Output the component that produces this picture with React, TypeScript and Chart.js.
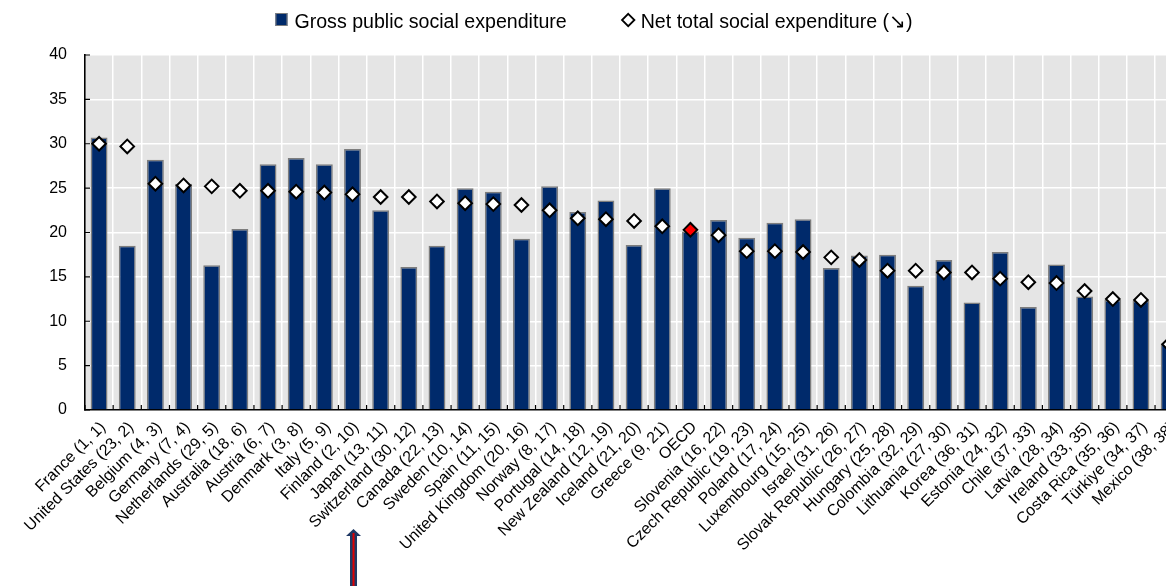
import React, { useEffect, useRef } from "react";
import { Chart, registerables } from "chart.js";

Chart.register(...registerables);

// ---------------- data ----------------
const categories = [
  "France (1, 1)",
  "United States (23, 2)",
  "Belgium (4, 3)",
  "Germany (7, 4)",
  "Netherlands (29, 5)",
  "Australia (18, 6)",
  "Austria (6, 7)",
  "Denmark (3, 8)",
  "Italy (5, 9)",
  "Finland (2, 10)",
  "Japan (13, 11)",
  "Switzerland (30, 12)",
  "Canada (22, 13)",
  "Sweden (10, 14)",
  "Spain (11, 15)",
  "United Kingdom (20, 16)",
  "Norway (8, 17)",
  "Portugal (14, 18)",
  "New Zealand (12, 19)",
  "Iceland (21, 20)",
  "Greece (9, 21)",
  "OECD",
  "Slovenia (16, 22)",
  "Czech Republic (19, 23)",
  "Poland (17, 24)",
  "Luxembourg (15, 25)",
  "Israel (31, 26)",
  "Slovak Republic (26, 27)",
  "Hungary (25, 28)",
  "Colombia (32, 29)",
  "Lithuania (27, 30)",
  "Korea (36, 31)",
  "Estonia (24, 32)",
  "Chile (37, 33)",
  "Latvia (28, 34)",
  "Ireland (33, 35)",
  "Costa Rica (35, 36)",
  "Türkiye (34, 37)",
  "Mexico (38, 38)",
];

const grossPublic = [
  30.7, 18.5, 28.2, 25.5, 16.3, 20.4, 27.7, 28.4, 27.7, 29.4,
  22.5, 16.1, 18.5, 25.0, 24.6, 19.3, 25.2, 22.3, 23.6, 18.6,
  25.0, 20.1, 21.4, 19.4, 21.1, 21.5, 16.0, 17.4, 17.5, 14.0,
  16.9, 12.1, 17.8, 11.6, 16.4, 12.8, 12.4, 12.3, 7.5,
];

const netTotal = [
  30.0, 29.7, 25.5, 25.3, 25.2, 24.7, 24.7, 24.6, 24.5, 24.3,
  24.0, 24.0, 23.5, 23.3, 23.2, 23.1, 22.5, 21.6, 21.5, 21.3,
  20.7, 20.3, 19.7, 17.9, 17.9, 17.8, 17.2, 16.9, 15.7, 15.7,
  15.5, 15.5, 14.8, 14.4, 14.3, 13.4, 12.5, 12.4, 7.4,
];

const yMin = 0;
const yMax = 40;
const yStep = 5;

const seriesLabels = [
  "Gross public social expenditure",
  "Net total social expenditure (\u2198)",
];

const highlightCategory = "OECD";
const arrowCategory = "Finland (2, 10)";

// ---------------- styles ----------------
const NAVY = "#002a6b";
const BAR_EDGE = "#7d7d7d";
const PLOT_BG = "#e5e5e5";
const FONT = "'Liberation Sans', Arial, Helvetica, sans-serif";

const CANVAS_W = 1190;
const CANVAS_H = 578;

const plotBackground = {
  id: "plotBackground",
  beforeDraw(chart: any) {
    const { ctx, chartArea } = chart;
    ctx.save();
    ctx.fillStyle = PLOT_BG;
    ctx.fillRect(chartArea.left, chartArea.top, chartArea.right - chartArea.left, chartArea.bottom - chartArea.top);
    ctx.restore();
  },
};

const innerTicks = {
  id: "innerTicks",
  afterDatasetsDraw(chart: any) {
    const { ctx, chartArea, scales } = chart;
    const x = scales.x;
    const y = scales.y;
    ctx.save();
    ctx.strokeStyle = "#000";
    ctx.lineWidth = 1.2;
    ctx.beginPath();
    const n = categories.length;
    for (let i = 0; i <= n; i++) {
      const px = x.getPixelForValue(i - 0.5);
      ctx.moveTo(px, chartArea.bottom);
      ctx.lineTo(px, chartArea.bottom - 5);
    }
    for (let v = yMin; v <= yMax; v += yStep) {
      const py = y.getPixelForValue(v);
      ctx.moveTo(chartArea.left, py);
      ctx.lineTo(chartArea.left + 5, py);
    }
    ctx.stroke();
    ctx.restore();
  },
};

const customLegend = {
  id: "customLegend",
  afterDraw(chart: any) {
    const { ctx } = chart;
    ctx.save();
    ctx.font = `19.6px ${FONT}`;
    ctx.textBaseline = "alphabetic";
    ctx.textAlign = "left";
    const w1 = 12 + 7 + ctx.measureText(seriesLabels[0]).width;
    const w2 = 15 + 5 + ctx.measureText(seriesLabels[1]).width;
    const gap = 54;
    const total = w1 + gap + w2;
    let x = chart.width / 2 - 9 - total / 2;
    const baseY = 20;
    ctx.fillStyle = NAVY;
    ctx.fillRect(x, 5, 12, 13);
    ctx.strokeStyle = BAR_EDGE;
    ctx.lineWidth = 1;
    ctx.strokeRect(x + 0.5, 5.5, 11, 12);
    ctx.fillStyle = "#000";
    ctx.fillText(seriesLabels[0], x + 19, baseY);
    x += w1 + gap;
    const cx = x + 7.5;
    const cy = 12;
    const r = 6.2;
    ctx.beginPath();
    ctx.moveTo(cx, cy - r);
    ctx.lineTo(cx + r, cy);
    ctx.lineTo(cx, cy + r);
    ctx.lineTo(cx - r, cy);
    ctx.closePath();
    ctx.fillStyle = "#fff";
    ctx.fill();
    ctx.strokeStyle = "#000";
    ctx.lineWidth = 1.8;
    ctx.stroke();
    ctx.fillStyle = "#000";
    ctx.fillText(seriesLabels[1], x + 20, baseY);
    ctx.restore();
  },
};

const arrowMarker = {
  id: "arrowMarker",
  afterDraw(chart: any) {
    const { ctx, scales } = chart;
    const idx = categories.indexOf(arrowCategory);
    if (idx < 0) return;
    const cx = scales.x.getPixelForValue(idx) + 1;
    const tip = chart.height - 57;
    const bottom = chart.height;
    ctx.save();
    ctx.fillStyle = "#1f3864";
    ctx.beginPath();
    ctx.moveTo(cx, tip);
    ctx.lineTo(cx + 7.5, tip + 7);
    ctx.lineTo(cx + 3.5, tip + 7);
    ctx.lineTo(cx + 3.5, bottom);
    ctx.lineTo(cx - 3.5, bottom);
    ctx.lineTo(cx - 3.5, tip + 7);
    ctx.lineTo(cx - 7.5, tip + 7);
    ctx.closePath();
    ctx.fill();
    ctx.strokeStyle = "#e00000";
    ctx.lineWidth = 2;
    ctx.beginPath();
    ctx.moveTo(cx, tip + 4);
    ctx.lineTo(cx, bottom);
    ctx.stroke();
    ctx.restore();
  },
};

export default function App() {
  const canvasRef = useRef<HTMLCanvasElement | null>(null);

  useEffect(() => {
    if (!canvasRef.current) return;
    const pointFill = categories.map((c) => (c === highlightCategory ? "#ff0000" : "#ffffff"));

    const chart = new Chart(canvasRef.current, {
      type: "bar",
      data: {
        labels: categories,
        datasets: [
          {
            type: "bar",
            label: seriesLabels[0],
            data: grossPublic,
            backgroundColor: NAVY,
            borderColor: BAR_EDGE,
            borderWidth: 1.5,
            barPercentage: 0.6,
            categoryPercentage: 1,
            order: 2,
          },
          {
            type: "line",
            label: seriesLabels[1],
            data: netTotal,
            showLine: false,
            pointStyle: "rectRot",
            pointRadius: 6.8,
            pointBorderWidth: 2,
            pointBorderColor: "#000",
            pointBackgroundColor: pointFill,
            order: 1,
          } as any,
        ],
      },
      options: {
        responsive: false,
        animation: false,
        devicePixelRatio: 1,
        layout: { padding: { top: 47, right: 14.8, left: 0, bottom: 0 } },
        plugins: {
          legend: { display: false },
          tooltip: { enabled: false },
          title: { display: false },
        },
        scales: {
          x: {
            offset: true,
            grid: {
              display: true,
              offset: true,
              color: "#ffffff",
              lineWidth: 1.5,
              drawTicks: false,
            },
            border: { display: true, color: "#000", width: 1.6 },
            ticks: {
              autoSkip: false,
              maxRotation: 45,
              minRotation: 45,
              padding: 8,
              labelOffset: 4,
              color: "#000",
              font: { family: FONT, size: 16 },
            },
            afterFit(scale: any) {
              scale.height = CANVAS_H - 402;
            },
          },
          y: {
            min: yMin,
            max: yMax,
            ticks: {
              stepSize: yStep,
              padding: 18,
              color: "#000",
              font: { family: FONT, size: 16 },
            },
            grid: {
              color: "#ffffff",
              lineWidth: 1.5,
              drawTicks: false,
            },
            border: { display: true, color: "#000", width: 1.6 },
            afterFit(scale: any) {
              scale.width = 77;
            },
          },
        },
      },
      plugins: [plotBackground, innerTicks, customLegend, arrowMarker],
    });

    return () => chart.destroy();
  }, []);

  return (
    <div
      style={{
        position: "fixed",
        top: 0,
        left: 0,
        width: 1166,
        height: 586,
        overflow: "hidden",
        background: "#fff",
      }}
    >
      <canvas
        ref={canvasRef}
        width={CANVAS_W}
        height={CANVAS_H}
        style={{
          position: "absolute",
          left: 8,
          top: 8,
          display: "block",
          width: CANVAS_W,
          height: CANVAS_H,
        }}
      />
    </div>
  );
}
